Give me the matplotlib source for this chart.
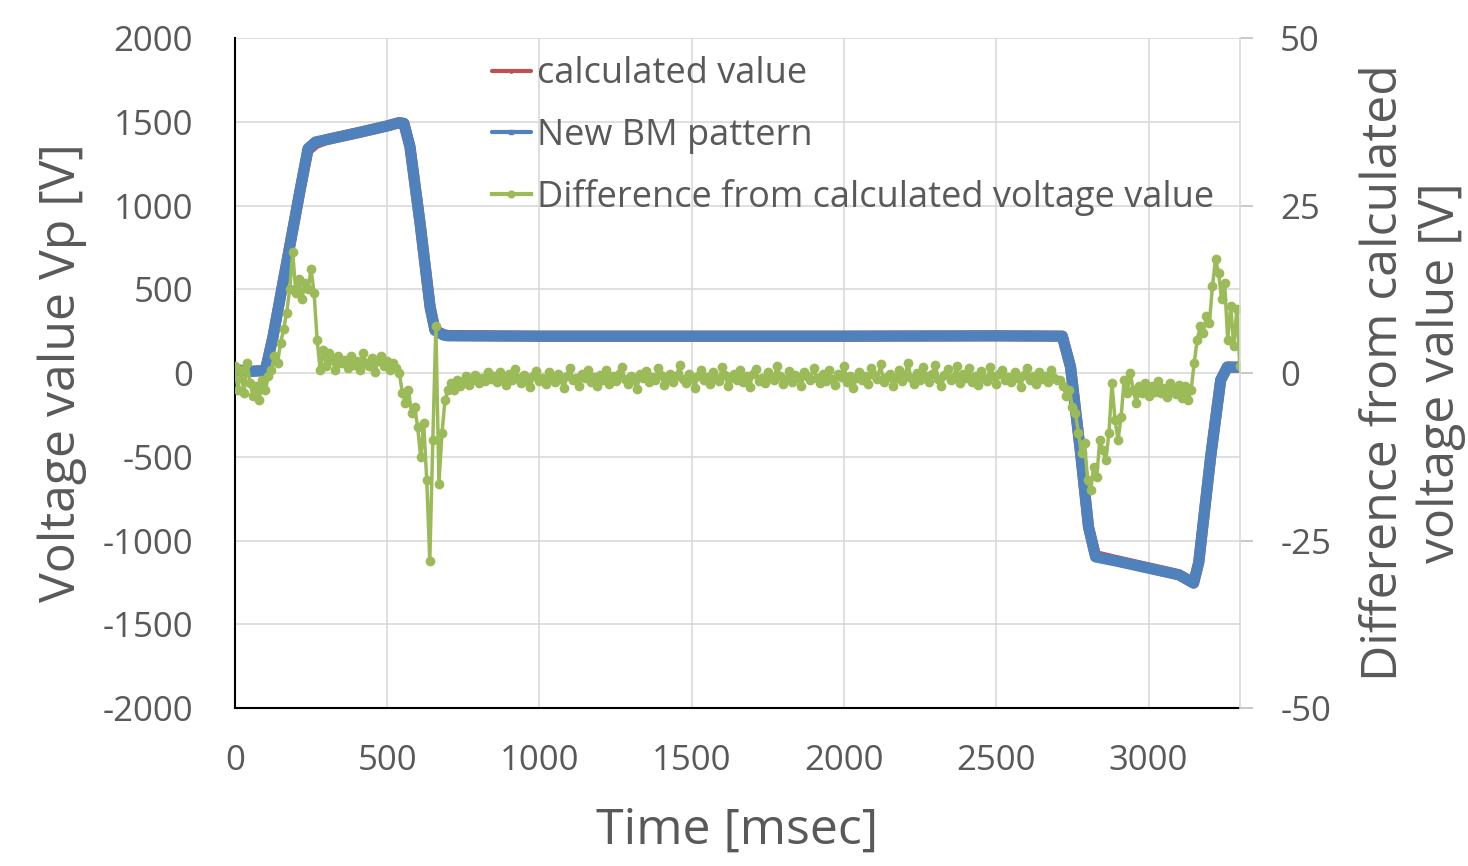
import numpy as np
import matplotlib
matplotlib.use("Agg")
import matplotlib.pyplot as plt

plt.rcParams['font.family'] = ['Open Sans', 'DejaVu Sans']
plt.rcParams['axes.unicode_minus'] = False

# voltage patterns (time in msec, voltage in V)
volt_t = [0, 50, 100, 125, 160, 190, 215, 240, 265, 300, 400, 500, 540, 555, 575, 608,
          641, 657, 684, 700, 1000, 1500, 2000, 2500, 2717, 2744, 2777, 2803, 2826, 2900,
          3000, 3100, 3148, 3165, 3204, 3237, 3259, 3280, 3300]
calc_v = [20, 10, 15, 215, 560, 854, 1100, 1330, 1370, 1393, 1433, 1475, 1495, 1490, 1350, 895,
          395, 256, 230, 224, 220, 220, 220, 222, 220, 36, -478, -919, -1090, -1122, -1163,
          -1204, -1254, -1130, -501, -42, 36, 35, 35]
bm_v = [20, 10, 15, 215, 560, 854, 1100, 1340, 1380, 1393, 1433, 1475, 1495, 1490, 1350, 895,
        395, 256, 227, 222, 220, 220, 220, 222, 220, 36, -478, -919, -1098, -1125, -1165,
        -1205, -1254, -1130, -501, -42, 36, 35, 35]

# difference from calculated voltage [V], one reading every 10 msec from 0
diff_v = [
    1.0, -2.5, 0.5, -3.0, 1.5, -1.5, -3.5, -2.0, -4.0, -1.0, -2.5,
    -0.5, 0.5, 2.5, 1.5, 4.5,
    6.5, 9.0, 12.5, 18.0,
    12.0, 14.0, 11.0, 13.5, 12.5, 15.5,
    12.0, 5.0, 0.5,
    3.5, 1.0, 3.0, 2.0, 0.5, 2.5, 1.5, 2.0, 0.8, 2.5, 1.2, 1.8, 0.5, 3.0, 1.5, 1.0,
    2.2, 0.2, 1.8, 2.5, 1.0, 1.8, 0.5, 1.5, 0.8, 0.0,
    -3.0, -4.5, -2.5, -6.0, -5.0, -8.0,
    -12.5, -7.5, -16.0, -28.0, -10.0, 7.0, -16.5, -9.0, -4.0, -2.5,
    -1.5, -2.5, -1.0, -2.0, -1.2, -0.5, -1.8, -1.0, -0.3, -1.5, -0.8, -1.2, 0.2, -0.9,
    -0.4, -1.3, 0.2, -0.9, -1.8, -0.2, -1.1, 0.6, -0.7, -1.5,
    -0.3, -1.0, -2.1, -0.5, 0.3, -1.2, -0.8, -1.6, 0.1, -0.6,
    -1.4, -0.1, -0.9, -2.3, -0.4, 0.8, -1.1, -0.7, -1.9, -0.2,
    -0.8, 0.4, -1.3, -0.6, -2.0, -0.3, -1.0, 0.5, -1.6, -0.5,
    -1.2, -0.2, 0.9, -0.9, -1.7, -0.4, -1.1, -2.4, -0.1, -0.7,
    0.3, -1.4, -0.6, -1.0, 0.7, -0.3, -1.8, -0.8, -0.2, -1.3,
    -0.5, 1.2, -0.9, -1.5, -0.1, -0.7, -2.2, -0.4, 0.4, -1.1,
    -0.6, -1.6, 0.2, -0.8, -1.2, 0.9, -0.3, -1.9, -0.7, -0.2,
    -1.0, 0.5, -1.4, -0.5, -2.1, -0.2, 0.6, -1.2, -0.8, -1.5,
    0.1, -0.6, -1.1, 1.0, -0.4, -1.7, -0.9, 0.3, -1.3, -0.3,
    -0.8, -2.0, 0.2, -0.5, -1.0, 0.8, -0.7, -1.5, -0.2, -1.2,
    0.5, -0.9, -1.8, -0.1, -0.6, 1.1, -1.3, -0.4, -2.2, -0.8,
    0.2, -1.1, -0.5, -1.6, 0.7, -0.3, -0.9, 1.3, -1.4, -0.6,
    -0.2, -1.9, -0.7, 0.4, -1.2, -0.4, 1.5, -0.8, -1.6, 0.0,
    -1.0, 0.9, -0.5, -1.4, -0.1, 1.2, -0.9, -2.0, -0.3, 0.6,
    -1.1, -0.6, 1.0, -1.5, -0.2, -0.8, 0.7, -1.3, -0.4, -1.8,
    0.3, -0.7, -1.2, 0.9, -0.5, -1.6, -0.1, 0.5, -1.0, -0.6,
    -1.4, 0.2, -0.8, -2.1, -0.3, 0.8, -1.1, -0.5, -1.7, 0.1,
    -0.9, -0.4, -1.3, 0.4, -0.7, -1.0,
    -1.0, -2.0, -3.5, -2.5, -5.0, -6.0, -9.0, -12.0, -10.5, -16.0,
    -17.5, -14.0, -15.5, -10.0, -11.5, -13.0, -9.0, -1.5, -7.0, -10.0,
    -6.5, -1.0, -3.0, 0.0, -2.5, -4.5, -2.0, -3.0, -1.5, -3.5, -2.0, -2.8,
    -1.2, -3.0, -2.2, -3.6, -1.5, -2.6, -3.2, -1.8, -3.8, -2.0, -4.0, -2.5,
    1.5, 5.0, 7.0, 6.0, 8.5, 7.5, 13.0, 17.0, 15.0, 11.0, 13.5, 5.0, 10.0, 4.0, 9.5, 1.0,
]
diff_t = np.arange(len(diff_v)) * 10

x_ticks = [0, 500, 1000, 1500, 2000, 2500, 3000]
y_ticks = [-2000, -1500, -1000, -500, 0, 500, 1000, 1500, 2000]
y2_ticks = [-50, -25, 0, 25, 50]

grey = '#595959'
fig = plt.figure(figsize=(14.68, 8.66), dpi=100)
ax = fig.add_axes([0.160, 0.1824, 0.6846, 0.7737])
ax2 = ax.twinx()

l1, = ax.plot(volt_t, calc_v, color='#c0504d', lw=8, marker='o', ms=3,
              solid_joinstyle='round', solid_capstyle='round', label='calculated value')
l2, = ax.plot(volt_t, bm_v, color='#4f81bd', lw=8, marker='s', ms=3,
              solid_joinstyle='round', solid_capstyle='round', label='New BM pattern')
l3, = ax2.plot(diff_t, diff_v, color='#9bbb59', lw=2.5, marker='o', ms=6,
               label='Difference from calculated voltage value')

ax.set_xlim(0, 3300)
ax.set_ylim(-2000, 2000)
ax2.set_ylim(-50, 50)
ax.set_xticks(x_ticks)
ax.set_yticks(y_ticks)
ax2.set_yticks(y2_ticks)

ax.grid(True, color='#d9d9d9', lw=1.2)
ax.set_axisbelow(True)
ax.tick_params(axis='both', length=0, labelsize=25, labelcolor=grey)
ax.tick_params(axis='x', pad=26)
ax.tick_params(axis='y', pad=30)
ax2.tick_params(axis='y', length=9, width=1.2, color='#bfbfbf', direction='out',
                labelsize=25, labelcolor=grey, pad=20)

for a in (ax, ax2):
    for s in a.spines.values():
        s.set_visible(False)
ax.spines['left'].set_visible(True)
ax.spines['left'].set_color('black')
ax.spines['left'].set_linewidth(1.5)
ax.spines['bottom'].set_visible(True)
ax.spines['bottom'].set_color('black')
ax.spines['bottom'].set_linewidth(1.5)
ax2.spines['right'].set_visible(True)
ax2.spines['right'].set_color('#d9d9d9')
ax2.spines['right'].set_linewidth(1.2)

ax.set_xlabel('Time [msec]', fontsize=36, color=grey, va='center')
ax.xaxis.set_label_coords(0.5, -0.184)
ax.set_ylabel('Voltage value Vp [V]', fontsize=36, color=grey, va='center')
ax.yaxis.set_label_coords(-0.172, 0.5)
ax2.set_ylabel('Difference from calculated\nvoltage value [V]', fontsize=36, color=grey,
               va='center', ha='center', rotation=90, linespacing=1.2)
ax2.yaxis.set_label_coords(1.172, 0.5)

leg = ax2.legend(handles=[l1, l2, l3], loc='upper left', bbox_to_anchor=(0.241, 0.994),
                 frameon=False, fontsize=26, handlelength=1.1, handletextpad=0.15,
                 labelspacing=0.7, borderaxespad=0.0, markerscale=0.8)
for t in leg.get_texts():
    t.set_color(grey)
for h in leg.legend_handles:
    h.set_linewidth(3)

fig.savefig('out.png', dpi=100)
